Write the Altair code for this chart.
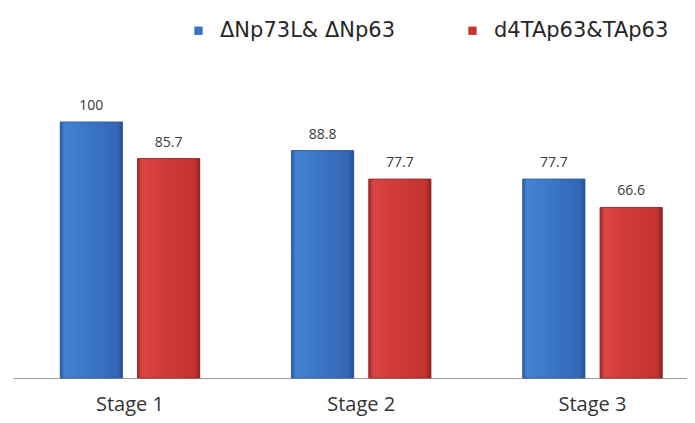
import altair as alt
import pandas as pd

stages = ["Stage 1", "Stage 2", "Stage 3"]
series = ["ΔNp73L& ΔNp63", "d4TAp63&TAp63"]
keys = ["a", "b"]
values_a = [100, 88.8, 77.7]
values_b = [85.7, 77.7, 66.6]
labels_a = ["100", "88.8", "77.7"]
labels_b = ["85.7", "77.7", "66.6"]

rows = []
for i, st in enumerate(stages):
    rows.append({"stage": st, "series": series[0], "k": "a", "value": values_a[i], "label": labels_a[i]})
    rows.append({"stage": st, "series": series[1], "k": "b", "value": values_b[i], "label": labels_b[i]})
df = pd.DataFrame(rows)

blue_grad = {"gradient": "linear", "x1": 0, "y1": 0, "x2": 1, "y2": 0,
             "stops": [{"offset": 0, "color": "#2A5AA2"},
                       {"offset": 0.07, "color": "#4482D4"},
                       {"offset": 0.45, "color": "#3C76C8"},
                       {"offset": 0.92, "color": "#3367B6"},
                       {"offset": 1, "color": "#234E8E"}]}
red_grad = {"gradient": "linear", "x1": 0, "y1": 0, "x2": 1, "y2": 0,
            "stops": [{"offset": 0, "color": "#A52828"},
                      {"offset": 0.07, "color": "#DA4442"},
                      {"offset": 0.45, "color": "#D03B39"},
                      {"offset": 0.92, "color": "#C13331"},
                      {"offset": 1, "color": "#8C1F1F"}]}

x_enc = alt.X("stage:N", sort=stages, title=None,
              scale=alt.Scale(paddingInner=0.3968, paddingOuter=0.1557, align=0.656),
              axis=alt.Axis(labelAngle=0, ticks=False, grid=False, domainColor="#9A9A9A",
                            domainWidth=1, labelFontSize=20, labelFont="Open Sans",
                            labelColor="#333333", labelPadding=16))
xo_enc = alt.XOffset("k:N", sort=keys, scale=alt.Scale(paddingInner=0.195, paddingOuter=0))
y_enc = alt.Y("value:Q", scale=alt.Scale(domain=[0, 144.5], nice=False), axis=None)

base = alt.Chart(df).encode(x=x_enc, xOffset=xo_enc, y=y_enc)

legend_layer = base.mark_bar().encode(
    color=alt.Color("series:N", sort=series,
                    scale=alt.Scale(domain=series, range=["#3A72C4", "#C83432"]),
                    legend=alt.Legend(title=None, orient="none", direction="horizontal",
                                      legendX=175, legendY=12, symbolType="square",
                                      symbolSize=70, symbolStrokeWidth=0, labelFontSize=21,
                                      labelFont="DejaVu Sans", labelColor="#262626",
                                      labelOffset=11, columnPadding=66, padding=0,
                                      labelLimit=400))
)

blue_layer = base.transform_filter(alt.datum.k == "a").mark_bar(
    color=blue_grad, stroke="#2A568F", strokeWidth=0.8)
red_layer = base.transform_filter(alt.datum.k == "b").mark_bar(
    color=red_grad, stroke="#8E2424", strokeWidth=0.8)

text_layer = base.mark_text(baseline="bottom", dy=-9, fontSize=14, font="Open Sans",
                            color="#3A3A3A").encode(text="label:N")

chart = alt.layer(legend_layer, blue_layer, red_layer, text_layer).properties(
    width=674, height=370,
    padding={"left": 5, "top": 0, "right": 0, "bottom": 3},
).configure_view(stroke=None).configure_axisY(domain=False, ticks=False, labels=False, grid=False)

chart.save("out.html", embed_options={"renderer": "svg", "actions": False})
